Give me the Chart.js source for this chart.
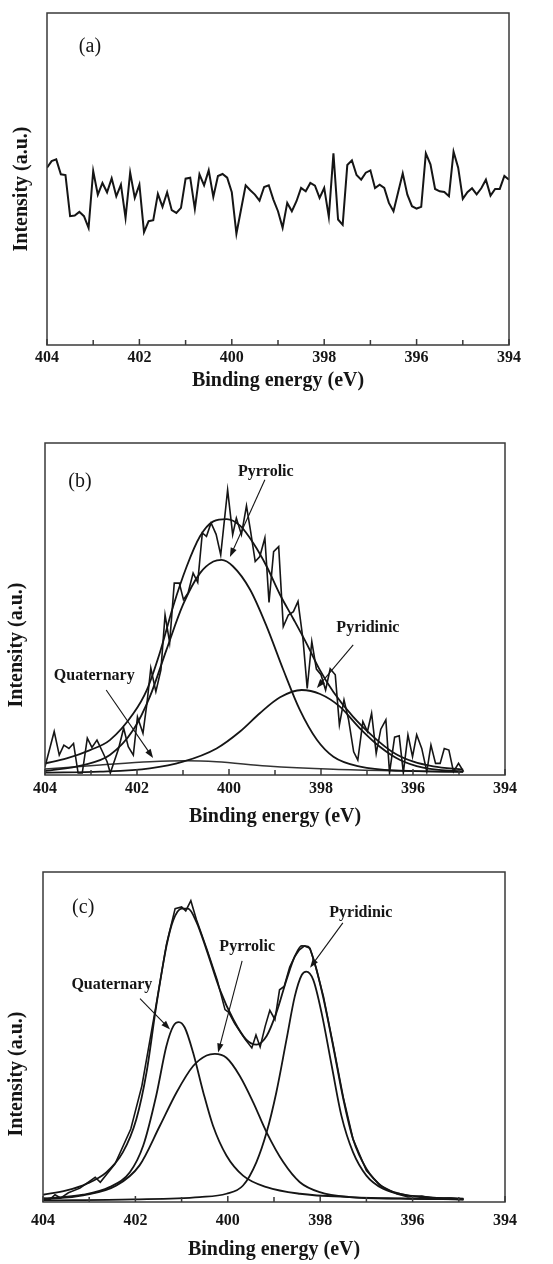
<!DOCTYPE html>
<html>
<head>
<meta charset="utf-8">
<script src="https://cdn.jsdelivr.net/npm/chart.js@4.4.0/dist/chart.umd.min.js"></script>
<style>
  body { margin: 0; background: #fff; width: 553px; height: 1264px; position: relative; overflow: hidden; }
  canvas { position: absolute; left: 0; }
</style>
</head>
<body>
<canvas id="chartA" width="553" height="420" style="top:0"></canvas>
<canvas id="chartB" width="553" height="420" style="top:420px"></canvas>
<canvas id="chartC" width="553" height="424" style="top:840px"></canvas>
<script>
// x axis ticks (binding energy, eV)
const majorTicks = [404, 402, 400, 398, 396, 394];
const minorTicks = [403, 401, 399, 397, 395];

// (a) raw spectrum
const energyA = [
  404.0, 403.9, 403.8, 403.7, 403.6, 403.5, 403.4, 403.3, 403.2, 403.1,
  403.0, 402.9, 402.8, 402.7, 402.6, 402.5, 402.4, 402.3, 402.2, 402.1,
  402.0, 401.9, 401.8, 401.7, 401.6, 401.5, 401.4, 401.3, 401.2, 401.1,
  401.0, 400.9, 400.8, 400.7, 400.6, 400.5, 400.4, 400.3, 400.2, 400.1,
  400.0, 399.9, 399.8, 399.7, 399.6, 399.5, 399.4, 399.3, 399.2, 399.1,
  399.0, 398.9, 398.8, 398.7, 398.6, 398.5, 398.4, 398.3, 398.2, 398.1,
  398.0, 397.9, 397.8, 397.7, 397.6, 397.5, 397.4, 397.3, 397.2, 397.1,
  397.0, 396.9, 396.8, 396.7, 396.6, 396.5, 396.4, 396.3, 396.2, 396.1,
  396.0, 395.9, 395.8, 395.7, 395.6, 395.5, 395.4, 395.3, 395.2, 395.1,
  395.0, 394.9, 394.8, 394.7, 394.6, 394.5, 394.4, 394.3, 394.2, 394.1,
  394.0
];
const rawA = [
  53.4, 55.4, 55.9, 51.4, 51.2, 38.8, 39.0, 40.1, 38.8, 35.3,
  52.4, 45.3, 48.8, 46.0, 50.2, 44.8, 48.3, 38.3, 51.9, 44.3,
  48.3, 34.0, 37.3, 37.6, 45.5, 41.6, 46.0, 40.6, 39.8, 41.3,
  50.1, 50.4, 41.0, 51.4, 48.1, 52.6, 44.6, 50.9, 51.5, 50.4,
  46.0, 33.5, 40.8, 48.1, 46.6, 45.3, 43.5, 47.6, 48.1, 43.8,
  40.3, 35.3, 42.8, 40.3, 43.3, 47.3, 46.3, 48.8, 48.0, 44.3,
  47.3, 38.6, 57.7, 37.8, 36.2, 54.2, 55.6, 51.2, 49.8, 51.9,
  52.6, 47.3, 48.3, 47.3, 42.8, 40.3, 46.0, 51.7, 45.3, 41.8,
  41.1, 41.6, 57.7, 54.4, 47.0, 46.3, 46.1, 44.8, 58.2, 53.4,
  44.0, 46.0, 47.2, 45.4, 47.2, 49.8, 45.0, 47.0, 47.0, 50.9,
  49.8
];

// (b) raw spectrum and fitted curves
const energyRawB = [
  404.00, 403.80, 403.69, 403.59, 403.48, 403.38, 403.28, 403.19, 403.08, 402.98,
  402.87, 402.75, 402.65, 402.58, 402.40, 402.29, 402.19, 402.08, 401.99, 401.87,
  401.78, 401.70, 401.59, 401.48, 401.39, 401.29, 401.19, 401.08, 400.99, 400.89,
  400.78, 400.68, 400.58, 400.49, 400.39, 400.28, 400.18, 400.03, 399.92, 399.84,
  399.73, 399.62, 399.53, 399.43, 399.33, 399.22, 399.13, 399.03, 398.92, 398.82,
  398.71, 398.60, 398.50, 398.39, 398.30, 398.20, 398.10, 398.00, 397.90, 397.80,
  397.69, 397.60, 397.50, 397.40, 397.29, 397.20, 397.09, 396.99, 396.90, 396.80,
  396.70, 396.59, 396.51, 396.40, 396.30, 396.21, 396.11, 396.01, 395.92, 395.81,
  395.70, 395.61, 395.51, 395.41, 395.32, 395.22, 395.12, 395.01, 394.90
];
const rawB = [
  2.5, 13.1, 6.0, 9.0, 8.0, 9.5, 0.6, 0.6, 11.1, 8.3,
  10.5, 7.0, 4.0, 0.6, 8.0, 14.1, 8.5, 6.0, 17.5, 12.6,
  22.0, 32.2, 25.1, 31.7, 48.2, 39.9, 57.8, 57.8, 52.8, 54.8,
  60.8, 58.0, 72.9, 71.9, 75.9, 72.5, 66.3, 85.9, 72.4, 77.4,
  72.4, 81.1, 73.4, 64.3, 65.8, 71.4, 52.0, 67.3, 68.8, 44.7,
  48.2, 49.2, 52.3, 40.7, 26.1, 40.2, 31.9, 30.2, 25.6, 32.0,
  30.2, 15.1, 22.6, 16.6, 7.0, 4.5, 16.1, 13.1, 18.6, 6.5,
  13.8, 16.6, 0.7, 11.4, 11.8, 0.7, 12.1, 5.5, 12.1, 8.0,
  1.0, 9.0, 3.5, 3.5, 8.0, 7.5, 1.0, 3.5, 1.0
];
const energyFitB = [404.00, 403.53, 403.02, 402.59, 402.08, 401.79, 401.50, 401.21, 400.92, 400.63, 400.34, 400.05, 399.76,
  399.47, 399.18, 398.89, 398.60, 398.31, 398.02, 397.73, 397.30, 396.86, 396.43, 395.99, 395.56, 394.91];
const envelopeB = [3.5, 5.0, 7.5, 10.5, 18.5, 25.5, 37.0, 51.0, 62.8, 71.9, 76.4, 77.1, 75.1,
  69.8, 62.8, 54.3, 47.0, 39.5, 31.5, 25.0, 17.5, 11.5, 6.8, 4.0, 2.6, 1.6];
const energyPyrrolicB = [404.00, 403.17, 402.59, 402.08, 401.72, 401.36, 401.00, 400.63, 400.34, 400.16, 399.91, 399.54,
  399.18, 398.82, 398.46, 398.09, 397.73, 397.15, 396.28, 394.91];
const pyrrolicB = [1.2, 3.0, 6.0, 13.6, 23.6, 37.7, 51.3, 60.8, 64.3, 64.8, 62.8, 55.8,
  44.7, 31.7, 19.6, 10.6, 5.5, 2.5, 1.3, 1.0];
const energyPyridinicB = [404.00, 402.80, 401.72, 401.00, 400.27, 399.76, 399.33, 398.89, 398.42, 398.02, 397.59, 397.15,
  396.72, 396.28, 395.78, 394.91];
const pyridinicB = [0.7, 1.0, 2.0, 4.0, 8.0, 13.1, 18.6, 23.4, 25.6, 24.4, 20.6, 14.0,
  8.5, 4.5, 2.2, 1.0];
const energyQuaternaryB = [404.00, 402.80, 401.72, 400.92, 400.27, 399.18, 397.73, 396.28, 394.91];
const quaternaryB = [1.8, 3.0, 4.0, 4.3, 4.0, 2.7, 1.7, 1.2, 0.9];

// (c) raw spectrum and fitted curves
const energyRawC = [
  404.00, 403.85, 403.74, 403.62, 403.45, 403.20, 402.87, 402.76, 402.44, 402.10,
  401.86, 401.55, 401.33, 401.14, 401.00, 400.91, 400.80, 400.68, 400.46, 400.23,
  400.06, 399.98, 399.85, 399.62, 399.48, 399.39, 399.30, 399.19, 399.09, 398.98,
  398.88, 398.78, 398.66, 398.55, 398.45, 398.34, 398.22, 398.09, 397.93, 397.72,
  397.50, 397.29, 397.00, 396.70, 396.35, 396.10, 395.80, 395.50, 395.20, 394.90
];
const rawC = [
  1.2, 0.8, 2.2, 1.2, 2.8, 4.2, 7.5, 6.0, 11.6, 22.1,
  35.2, 59.8, 77.9, 88.9, 89.4, 88.2, 91.3, 85.6, 76.9, 67.3,
  58.3, 57.5, 54.1, 49.2, 46.7, 50.6, 47.0, 53.3, 58.1, 55.3,
  64.3, 65.3, 71.2, 74.4, 76.4, 77.6, 76.9, 70.9, 62.3, 47.7,
  31.7, 19.1, 9.5, 5.0, 2.5, 1.5, 1.8, 1.0, 1.2, 0.8
];
const energyFitC = [404.00, 403.49, 403.06, 402.63, 402.27, 401.98, 401.76, 401.55, 401.33, 401.18,
  401.00, 400.86, 400.68, 400.46, 400.17, 399.88, 399.60, 399.38, 399.16, 398.95,
  398.73, 398.55, 398.40, 398.26, 398.12, 397.94, 397.72, 397.50, 397.29, 397.00,
  396.64, 396.27, 395.70, 394.90];
const envelopeC = [2.2, 3.5, 5.5, 9.0, 15.1, 25.1, 39.2, 59.3, 77.4, 85.4,
  88.9, 88.9, 84.9, 76.4, 64.3, 55.3, 49.2, 47.7, 50.3, 57.3,
  67.3, 74.4, 77.6, 77.4, 72.4, 62.3, 47.2, 31.2, 19.1, 10.1,
  4.5, 2.5, 1.5, 1.0];
const energyQuaternaryC = [404.00, 403.13, 402.56, 402.12, 401.83, 401.55, 401.33, 401.18, 401.06, 400.93,
  400.75, 400.53, 400.32, 400.03, 399.67, 399.16, 398.44, 397.36, 395.91, 394.90];
const quaternaryC = [1.0, 2.2, 4.5, 9.0, 17.1, 32.2, 47.2, 53.3, 54.5, 52.8,
  45.2, 33.2, 23.1, 14.1, 8.0, 4.5, 2.5, 1.5, 1.0, 0.8];
const energyPyrrolicC = [404.00, 403.13, 402.41, 401.91, 401.47, 401.11, 400.75, 400.46, 400.28, 400.03,
  399.74, 399.45, 399.16, 398.80, 398.44, 398.01, 397.36, 396.27, 394.90];
const pyrrolicC = [0.8, 2.0, 5.0, 11.1, 23.1, 33.2, 41.2, 44.4, 44.9, 43.7,
  38.2, 30.2, 21.1, 12.1, 6.0, 3.0, 1.5, 1.0, 0.8];
const energyPyridinicC = [404.00, 402.05, 400.61, 400.03, 399.67, 399.38, 399.16, 398.95, 398.73, 398.55,
  398.40, 398.30, 398.15, 397.97, 397.75, 397.54, 397.29, 397.00, 396.64, 396.13, 394.90];
const pyridinicC = [0.5, 0.8, 1.5, 2.5, 5.0, 12.1, 21.1, 33.2, 49.2, 62.3,
  68.8, 69.8, 67.3, 57.3, 41.2, 26.1, 15.1, 8.0, 4.0, 2.0, 0.8];

const serif = '"Liberation Serif", "Times New Roman", serif';
const ink = '#151515';

function pts(xs, ys) {
  return xs.map((x, i) => ({ x: x, y: ys[i] }));
}

function raw(xs, ys, width) {
  return { data: pts(xs, ys), borderColor: ink, borderWidth: width, tension: 0, pointRadius: 0 };
}

function fit(xs, ys, width, color) {
  return { data: pts(xs, ys), borderColor: color || ink, borderWidth: width, cubicInterpolationMode: 'monotone', pointRadius: 0 };
}

function arrow(ctx, x1, y1, x2, y2) {
  const ang = Math.atan2(y2 - y1, x2 - x1);
  ctx.beginPath();
  ctx.moveTo(x1, y1);
  ctx.lineTo(x2 - 6 * Math.cos(ang), y2 - 6 * Math.sin(ang));
  ctx.stroke();
  ctx.beginPath();
  ctx.moveTo(x2, y2);
  ctx.lineTo(x2 - 9 * Math.cos(ang) + 3.2 * Math.sin(ang), y2 - 9 * Math.sin(ang) - 3.2 * Math.cos(ang));
  ctx.lineTo(x2 - 9 * Math.cos(ang) - 3.2 * Math.sin(ang), y2 - 9 * Math.sin(ang) + 3.2 * Math.cos(ang));
  ctx.closePath();
  ctx.fill();
}

// frame, inward ticks, y title, panel letter and peak labels
const framePlugin = {
  id: 'frame',
  afterDatasetsDraw(chart, args, o) {
    const { ctx, chartArea: a, scales: { x, y } } = chart;
    ctx.save();
    ctx.strokeStyle = '#3a3a3a';
    ctx.lineWidth = 1.5;
    ctx.strokeRect(a.left, a.top, a.right - a.left, a.bottom - a.top);
    ctx.beginPath();
    majorTicks.forEach(v => {
      const px = x.getPixelForValue(v);
      ctx.moveTo(px, a.bottom);
      ctx.lineTo(px, a.bottom - 6);
    });
    minorTicks.forEach(v => {
      const px = x.getPixelForValue(v);
      ctx.moveTo(px, a.bottom);
      ctx.lineTo(px, a.bottom - 5);
    });
    ctx.stroke();
    ctx.restore();

    ctx.save();
    ctx.fillStyle = ink;
    ctx.font = 'bold 20px ' + serif;
    ctx.textAlign = 'center';
    ctx.textBaseline = 'middle';
    ctx.translate(o.yTitleX, (a.top + a.bottom) / 2 + o.yTitleShift);
    ctx.rotate(-Math.PI / 2);
    ctx.fillText('Intensity (a.u.)', 0, 0);
    ctx.restore();

    ctx.save();
    ctx.fillStyle = ink;
    ctx.strokeStyle = ink;
    ctx.textAlign = 'center';
    ctx.textBaseline = 'middle';
    ctx.font = '20px ' + serif;
    ctx.fillText(o.letter, x.getPixelForValue(o.letterAt[0]), y.getPixelForValue(o.letterAt[1]));
    ctx.font = 'bold 16px ' + serif;
    ctx.lineWidth = 1.1;
    (o.notes || []).forEach(n => {
      ctx.fillText(n.text, x.getPixelForValue(n.at[0]), y.getPixelForValue(n.at[1]));
      arrow(ctx, x.getPixelForValue(n.from[0]), y.getPixelForValue(n.from[1]),
        x.getPixelForValue(n.to[0]), y.getPixelForValue(n.to[1]));
    });
    ctx.restore();
  }
};

function makeChart(id, datasets, opt) {
  return new Chart(document.getElementById(id), {
    type: 'line',
    data: { datasets: datasets },
    options: {
      responsive: false,
      animation: false,
      layout: { padding: opt.padding },
      plugins: { legend: { display: false }, tooltip: { enabled: false }, frame: opt.frame },
      scales: {
        x: {
          type: 'linear', reverse: true, min: 394, max: 404,
          grid: { display: false, drawTicks: false }, border: { display: false },
          ticks: { stepSize: 2, padding: opt.tickPad, color: ink,
            font: { family: serif, size: 16, weight: 'bold', lineHeight: 1 } },
          title: { display: true, text: 'Binding energy (eV)', color: ink,
            font: { family: serif, size: 20, weight: 'bold', lineHeight: 1 },
            padding: { top: opt.titlePad, bottom: 0 } }
        },
        y: { display: false, min: 0, max: 100 }
      }
    },
    plugins: [framePlugin]
  });
}

makeChart('chartA', [raw(energyA, rawA, 2)], {
  padding: { left: 47, right: 44, top: 13, bottom: 29 },
  tickPad: 5, titlePad: 0,
  frame: { yTitleX: 22, yTitleShift: 10, letter: '(a)', letterAt: [403.07, 89.8] }
});

makeChart('chartB', [
  raw(energyRawB, rawB, 1.6),
  fit(energyFitB, envelopeB, 1.8),
  fit(energyPyrrolicB, pyrrolicB, 1.8),
  fit(energyPyridinicB, pyridinicB, 1.8),
  fit(energyQuaternaryB, quaternaryB, 1.5, '#333')
], {
  padding: { left: 45, right: 48, top: 23, bottom: 13 },
  tickPad: 6, titlePad: 4,
  frame: {
    yTitleX: 17, yTitleShift: 36, letter: '(b)', letterAt: [403.24, 88.3],
    notes: [
      { text: 'Pyrrolic', at: [399.20, 91.3], from: [399.22, 88.9], to: [399.98, 65.7] },
      { text: 'Pyridinic', at: [396.98, 44.3], from: [397.30, 39.2], to: [398.09, 26.2] },
      { text: 'Quaternary', at: [402.93, 29.8], from: [402.67, 25.6], to: [401.65, 5.1] }
    ]
  }
});

makeChart('chartC', [
  raw(energyRawC, rawC, 1.6),
  fit(energyFitC, envelopeC, 1.8),
  fit(energyQuaternaryC, quaternaryC, 1.8),
  fit(energyPyrrolicC, pyrrolicC, 1.8),
  fit(energyPyridinicC, pyridinicC, 1.8)
], {
  padding: { left: 43, right: 48, top: 32, bottom: 4 },
  tickPad: 11, titlePad: 0,
  frame: {
    yTitleX: 17, yTitleShift: 37, letter: '(c)', letterAt: [403.13, 89.1],
    notes: [
      { text: 'Pyridinic', at: [397.12, 87.6], from: [397.51, 84.6], to: [398.22, 71.0] },
      { text: 'Pyrrolic', at: [399.58, 77.3], from: [399.69, 73.1], to: [400.21, 45.3] },
      { text: 'Quaternary', at: [402.51, 65.9], from: [401.90, 61.6], to: [401.25, 52.3] }
    ]
  }
});
</script>
</body>
</html>
